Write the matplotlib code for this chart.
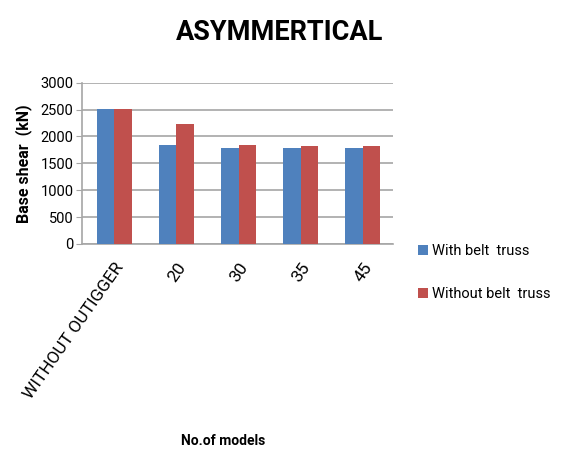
import matplotlib
matplotlib.use('Agg')
import matplotlib.pyplot as plt
import numpy as np

# data
categories = ['WITHOUT OUTIGGER', '20', '30', '35', '45']
with_belt = [2520, 1850, 1790, 1790, 1790]
without_belt = [2520, 2240, 1850, 1820, 1820]
series_names = ['With belt  truss', 'Without belt  truss']
yticks = [0, 500, 1000, 1500, 2000, 2500, 3000]

blue = '#4f81bd'
red = '#c0504d'
grid_col = '#a6a6a6'
plt.rcParams['font.family'] = ['Roboto', 'DejaVu Sans']

fig = plt.figure(figsize=(5.61, 4.5), dpi=100)
ax = fig.add_axes([0.146, 0.458, 0.555, 0.358])

x = np.arange(len(categories))
w = 0.28
b1 = ax.bar(x - w / 2, with_belt, w, color=blue, label=series_names[0], zorder=3)
b2 = ax.bar(x + w / 2, without_belt, w, color=red, label=series_names[1], zorder=3)

ax.set_xlim(-0.52, 4.49)
ax.set_ylim(0, 3000)
ax.set_yticks(yticks)
ax.set_yticklabels([str(t) for t in yticks], fontsize=10.5)
ax.yaxis.grid(True, color=grid_col, linewidth=1.2, zorder=0)
ax.tick_params(axis='y', length=4, color=grid_col, pad=2)
ax.tick_params(axis='x', length=0, pad=12)
ax.set_xticks(x)
ax.set_xticklabels(categories, rotation=55, ha='right', rotation_mode='anchor',
                   fontsize=12.5)

for s in ['top', 'right']:
    ax.spines[s].set_visible(False)
ax.spines['left'].set_color(grid_col)
ax.spines['bottom'].set_color(grid_col)
ax.spines['left'].set_linewidth(1.2)
ax.spines['bottom'].set_linewidth(1.2)

ax.set_ylabel('Base shear  (kN)', fontweight='bold', fontsize=11.5, labelpad=6)
fig.text(0.397, 0.012, 'No.of models', fontweight='bold', fontsize=10, ha='center')
fig.text(0.498, 0.91, 'ASYMMERTICAL', fontweight='bold', fontsize=19.5, ha='center')

fig.legend(handles=[b1, b2], loc='upper left', bbox_to_anchor=(0.721, 0.487), frameon=False,
           prop={'size': 10.5}, labelspacing=2.0,
           handlelength=0.7, handleheight=0.7, handletextpad=0.3)

fig.savefig('out.png', dpi=100)
